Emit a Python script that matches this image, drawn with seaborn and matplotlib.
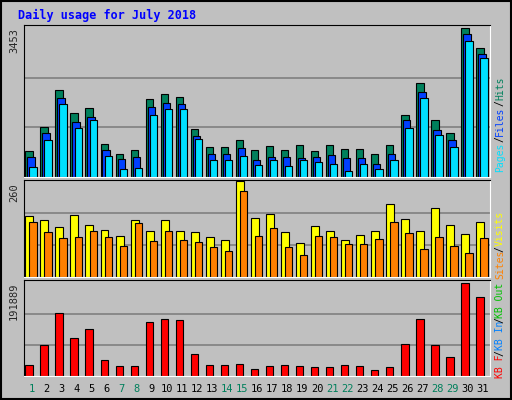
import numpy as np
import matplotlib
matplotlib.use("Agg")
import matplotlib.pyplot as plt
import seaborn as sns

sns.set_style("white")
plt.rcParams['font.family'] = ['DejaVu Sans Mono']

# --- DATA ---
days = list(range(1, 32))
hits = [594, 1156, 2023, 1484, 1601, 758, 523, 617, 1812, 1930, 1859, 1109, 687, 687, 851, 617,
        711, 617, 734, 594, 734, 641, 641, 523, 734, 1437, 2187, 1320, 1016, 3453, 2984]
files = [453, 1016, 1836, 1273, 1391, 617, 406, 453, 1625, 1719, 1695, 945, 523, 523, 664, 383,
         453, 453, 430, 453, 500, 430, 430, 312, 523, 1320, 1977, 1086, 851, 3312, 2844]
pages = [242, 851, 1695, 1133, 1320, 477, 195, 219, 1437, 1578, 1578, 875, 383, 383, 477, 289,
         383, 266, 383, 336, 312, 148, 312, 195, 383, 1133, 1836, 969, 687, 3148, 2750]
visits = [164, 153, 136, 167, 142, 128, 111, 153, 125, 153, 125, 122, 108, 99, 260, 159,
          170, 122, 91, 139, 125, 99, 114, 125, 198, 156, 125, 187, 142, 116, 150]
sites = [150, 122, 105, 108, 125, 108, 85, 145, 97, 125, 99, 94, 80, 71, 232, 111,
         133, 80, 60, 111, 108, 88, 88, 102, 150, 119, 77, 108, 83, 66, 105]
kbytes = [21709, 63727, 128855, 78434, 97342, 32214, 19608, 19608, 112048, 118351, 116250,
          44819, 21709, 21709, 23810, 15407, 19608, 21709, 19608, 17508, 17508, 21709, 19608,
          13306, 17508, 65828, 118351, 63727, 38517, 191889, 162470]
weekend = [1, 7, 8, 14, 15, 21, 22, 28, 29]

BG = '#C0C0C0'
C_HITS, C_FILES, C_PAGES = '#00805C', '#0040FF', '#00E0FF'
C_VISITS, C_SITES, C_KB = '#FFFF00', '#FF8000', '#FF0000'

W, H = 512, 400
fig = plt.figure(figsize=(W / 100, H / 100), dpi=100, facecolor=BG)

def make_ax(top, bottom):
    ax = fig.add_axes([24 / W, 1 - bottom / H, 466 / W, (bottom - top) / H], facecolor=BG)
    ax.set_xlim(0.5, 31.5)
    ax.set_xticks([])
    ax.set_yticks([])
    for s in ['top', 'left']:
        ax.spines[s].set_color('black')
    for s in ['bottom', 'right']:
        ax.spines[s].set_color('white')
    return ax

def grid(ax, vmax):
    for f in (1 / 3, 2 / 3):
        ax.axhline(vmax * f, color='#808080', lw=1.2, zorder=0)

x = np.array(days) - 0.5
ax1 = make_ax(25, 177)
ax1.set_ylim(0, 3453 * 1.02)
grid(ax1, 3453)
ax1.bar(x + 0.09, hits, width=0.49, align='edge', color=C_HITS, edgecolor='black', lw=0.8)
ax1.bar(x + 0.22, files, width=0.49, align='edge', color=C_FILES, edgecolor='black', lw=0.8)
ax1.bar(x + 0.36, pages, width=0.49, align='edge', color=C_PAGES, edgecolor='black', lw=0.8)

ax2 = make_ax(180, 277)
ax2.set_ylim(0, 260 * 1.01)
grid(ax2, 260)
ax2.bar(x + 0.09, visits, width=0.53, align='edge', color=C_VISITS, edgecolor='black', lw=0.8)
ax2.bar(x + 0.36, sites, width=0.49, align='edge', color=C_SITES, edgecolor='black', lw=0.8)

ax3 = make_ax(280, 376)
ax3.set_ylim(0, 191889 * 1.03)
grid(ax3, 191889)
ax3.bar(x + 0.09, kbytes, width=0.49, align='edge', color=C_KB, edgecolor='black', lw=0.8)

# day labels
for d in days:
    fig.text((24 + (d - 0.5) * 466 / 31) / W, 1 - 389 / H, str(d), ha='center', va='center',
             fontsize=7.5, color=C_HITS if d in weekend else 'black')

# title
fig.text(18 / W, 1 - 15 / H, 'Daily usage for July 2018', color='#0000FF',
         fontsize=8.5, fontweight='bold', ha='left', va='center')

# left max labels
for ytop, lab in [(28, '3453'), (183, '260'), (283, '191889')]:
    fig.text(14 / W, 1 - ytop / H, lab, rotation=90, ha='center', va='top', fontsize=7.5)

# right legend labels, drawn bottom-up
def stack(y_bottom, parts, step=6.0):
    y = y_bottom
    for txt, col in parts:
        fig.text(500 / W, 1 - y / H, txt, rotation=90, ha='center', va='bottom',
                 fontsize=7, color=col)
        y -= len(txt) * step

stack(172, [('Pages', C_PAGES), ('/', 'black'), ('Files', C_FILES), ('/', 'black'), ('Hits', C_HITS)])
stack(378, [('KB F', C_KB), ('/', 'black'), ('KB In', '#0080FF'), ('/', 'black'),
            ('KB Out', '#00C000'), (' ', 'black'), ('Sites', C_SITES), ('/', 'black'),
            ('Visits', C_VISITS)], step=5.5)

# outer border
fig.patches.append(plt.Rectangle((0.002, 0.002), 0.996, 0.996, transform=fig.transFigure,
                                 fill=False, edgecolor='black', lw=1.5))

fig.savefig('out.png', dpi=100, facecolor=BG)
